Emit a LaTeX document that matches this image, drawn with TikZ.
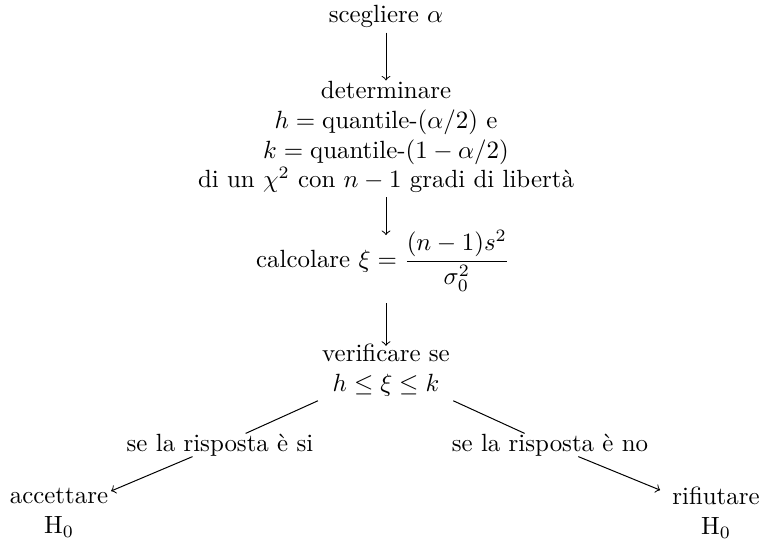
\documentclass[tikz,border=0pt]{standalone}
\usepackage{amsmath,amssymb}
\begin{document}
\begin{tikzpicture}[x=0.4016pt,y=-0.4016pt,
  txt/.style={align=center, inner sep=0pt},
  lbl/.style={inner sep=0pt},
  conn/.style={->, line width=0.4pt}]
\useasboundingbox (0,0) rectangle (761,547);
\node[txt] (a) at (386,16) {scegliere $\alpha$};
\node[txt] (b) at (386,137) {determinare\\ $h=\mbox{quantile-}(\alpha/2)$ e\\ $k=\mbox{quantile-}(1-\alpha/2)$\\ di un $\chi^2$ con $n-1$ gradi di libert\`a};
\node[txt] (c) at (383,261) {calcolare $\xi=\dfrac{(n-1)s^2}{\sigma_0^2}$};
\node[txt] (d) at (386,370) {verificare se\\ $h\le\xi\le k$};
\node[txt,inner sep=1pt] (e) at (59,513) {accettare\\ H$_0$};
\node[txt,inner sep=1pt] (f) at (716,513) {rifiutare\\ H$_0$};
\node[lbl] (l1) at (220,445) {se la risposta \`e si};
\node[lbl] (l2) at (550,445) {se la risposta \`e no};
\draw[conn,shorten <=2pt,shorten >=0pt] (a) -- (b);
\draw[conn,shorten <=1.5pt,shorten >=-2pt] (b) -- (b |- c.north);
\draw[conn,shorten <=4.5pt,shorten >=-1pt] (c.south -| b) -- (d);
\draw[shorten <=4pt] (d) -- (l1);
\draw[conn] (l1) -- (e);
\draw[shorten <=4pt] (d) -- (l2);
\draw[conn,shorten >=4pt] (l2) -- (f);
\end{tikzpicture}
\end{document}
